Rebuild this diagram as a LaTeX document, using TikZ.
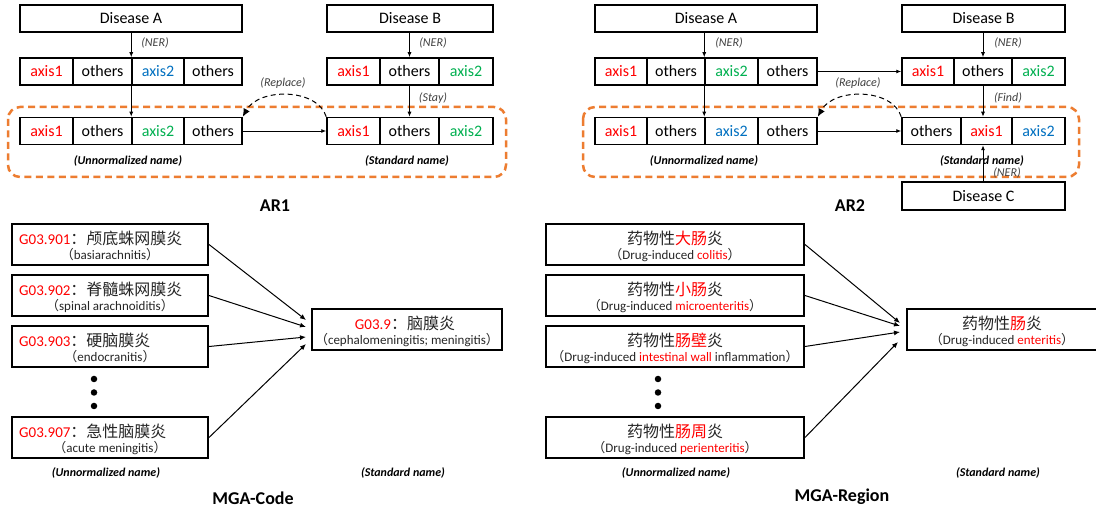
\documentclass[tikz,border=0pt]{standalone}
\usepackage{fontspec}
\setmainfont{Carlito}
\newfontfamily\cjk{Noto Sans CJK SC}
\usetikzlibrary{arrows.meta,calc}
\definecolor{cred}{RGB}{255,0,0}
\definecolor{cgreen}{RGB}{0,176,80}
\definecolor{cblue}{RGB}{0,112,192}
\definecolor{corange}{RGB}{237,125,49}
\definecolor{cgray}{RGB}{64,64,64}
\newcommand\fsz[1]{\fontsize{#1}{#1}\selectfont}
\newcommand\lp{{\cjk （}}
\newcommand\rp{{\cjk ）}}
\begin{document}
\begin{tikzpicture}[x=1pt,y=-1pt,
 xcell/.style={draw, line width=1.5pt, minimum height=27pt, inner sep=0pt, font=\fsz{16}},
 xarr/.style={-{Latex[length=5pt,width=4pt]}, line width=0.9pt},
 xlab/.style={font=\fsz{12}\itshape, text=cgray, inner sep=0pt},
 xnm/.style={font=\fsz{12}\bfseries\itshape, inner sep=0pt},
 xttl/.style={font=\fsz{18}\bfseries, inner sep=0pt},
 xgrp/.style={draw=corange, line width=2.5pt, dash pattern=on 7pt off 4.5pt, rounded corners=12pt},
 xrepl/.style={line width=1pt, dash pattern=on 5pt off 3.5pt, -{Latex[length=8pt,width=7pt]}},
 xmbox/.style={draw, line width=2pt, minimum height=41pt, inner sep=0pt},
 xcn/.style={inner sep=0pt, font=\fsz{16}\cjk, text=black!85},
 xen/.style={inner sep=0pt, font=\fsz{13}, text=black!85},
 xdot/.style={fill, circle, inner sep=0pt, minimum size=6.5pt},
 xmarr/.style={-{Latex[length=6pt,width=5pt]}, line width=1pt}
]
\useasboundingbox (0,0) rectangle (1096,510);
\clip (0,0) rectangle (1096,510);
\fill[white] (0,0) rectangle (1096,510);

% ---------------- AR1 ----------------
\draw[xgrp] (8,107) rectangle (506,177);
\node[xcell, minimum width=222pt] (a1A) at (131,18.5) {Disease A};
\node[xcell, minimum width=53pt, text=cred] (a1r1c1) at (46.5,71.5) {axis1};
\node[xcell, minimum width=59pt] (a1r1c2) at (102.5,71.5) {others};
\node[xcell, minimum width=52pt, text=cblue] (a1r1c3) at (158,71.5) {axis2};
\node[xcell, minimum width=58pt] (a1r1c4) at (213,71.5) {others};
\node[xcell, minimum width=53pt, text=cred] (a1r2c1) at (46.5,131) {axis1};
\node[xcell, minimum width=59pt] (a1r2c2) at (102.5,131) {others};
\node[xcell, minimum width=52pt, text=cgreen] (a1r2c3) at (158,131) {axis2};
\node[xcell, minimum width=58pt] (a1r2c4) at (213,131) {others};
\node[xcell, minimum width=166pt] (a1B) at (410,18.5) {Disease B};
\node[xcell, minimum width=53pt, text=cred] (a1s1c1) at (353.5,71.5) {axis1};
\node[xcell, minimum width=59pt] (a1s1c2) at (409.5,71.5) {others};
\node[xcell, minimum width=54pt, text=cgreen] (a1s1c3) at (466,71.5) {axis2};
\node[xcell, minimum width=53pt, text=cred] (a1s2c1) at (353.5,131) {axis1};
\node[xcell, minimum width=59pt] (a1s2c2) at (409.5,131) {others};
\node[xcell, minimum width=54pt, text=cgreen] (a1s2c3) at (466,131) {axis2};

\draw[xarr] (a1A.south -| a1r1c3.west) -- (a1r1c3.north west);
\draw[xarr] (a1r1c3.south west) -- (a1r2c3.north west);
\draw[xarr] (a1B.south -| a1s1c2) -- (a1s1c2.north);
\draw[xarr] (a1s1c2.south) -- (a1s2c2.north);
\draw[xarr] (a1r2c4.east) -- (a1s2c1.west);
\draw[xrepl] (a1s2c1.north west) .. controls ($(a1s2c1.north west)+(-9,-29)$) and ($(a1r2c4.north east)+(16,-29)$) .. (a1r2c4.north east);

\node[xlab] (l1a) at (155,43) {(NER)};
\node[xlab] (l1b) at (433,43) {(NER)};
\node[xlab] (l1c) at (433,98) {(Stay)};
\node[xlab] (l1d) at (283,83) {(Replace)};
\node[xnm] (n1a) at (128,161) {(Unnormalized name)};
\node[xnm] (n1b) at (407,161) {(Standard name)};
\node[xttl] (t1) at (275,206) {AR1};

% ---------------- AR2 ----------------
\draw[xgrp] (583,107) rectangle (1079,177);
\node[xcell, minimum width=222pt] (a2A) at (706,18.5) {Disease A};
\node[xcell, minimum width=52pt, text=cred] (a2r1c1) at (621,71.5) {axis1};
\node[xcell, minimum width=58pt] (a2r1c2) at (676,71.5) {others};
\node[xcell, minimum width=53pt, text=cgreen] (a2r1c3) at (731.5,71.5) {axis2};
\node[xcell, minimum width=59pt] (a2r1c4) at (787.5,71.5) {others};
\node[xcell, minimum width=52pt, text=cred] (a2r2c1) at (621,131) {axis1};
\node[xcell, minimum width=58pt] (a2r2c2) at (676,131) {others};
\node[xcell, minimum width=53pt, text=cblue] (a2r2c3) at (731.5,131) {axis2};
\node[xcell, minimum width=59pt] (a2r2c4) at (787.5,131) {others};
\node[xcell, minimum width=163pt] (a2B) at (983.5,18.5) {Disease B};
\node[xcell, minimum width=52pt, text=cred] (a2s1c1) at (928,71.5) {axis1};
\node[xcell, minimum width=58pt] (a2s1c2) at (983,71.5) {others};
\node[xcell, minimum width=53pt, text=cgreen] (a2s1c3) at (1038.5,71.5) {axis2};
\node[xcell, minimum width=59pt] (a2s2c1) at (931.5,131) {others};
\node[xcell, minimum width=51pt, text=cred] (a2s2c2) at (986.5,131) {axis1};
\node[xcell, minimum width=53pt, text=cblue] (a2s2c3) at (1038.5,131) {axis2};
\node[xcell, minimum width=163pt, minimum height=28pt] (a2C) at (983.5,196) {Disease C};

\draw[xarr] (a2A.south -| a2r1c3.west) -- (a2r1c3.north west);
\draw[xarr] (a2r1c3.south west) -- (a2r2c3.north west);
\draw[xarr] (a2r1c4.east) -- (a2s1c1.west);
\draw[xarr] (a2B.south -| a2s1c2) -- (a2s1c2.north);
\draw[xarr] (a2s1c2.south) -- (a2s2c2.north -| a2s1c2);
\draw[xarr] (a2C.north -| a2s1c2) -- (a2s2c2.south -| a2s1c2);
\draw[xarr] (a2r2c4.east) -- (a2s2c1.west);
\draw[xrepl] (a2s2c1.north west) .. controls ($(a2s2c1.north west)+(-9,-29)$) and ($(a2r2c4.north east)+(16,-29)$) .. (a2r2c4.north east);

\node[xlab] (l2a) at (729,43) {(NER)};
\node[xlab] (l2b) at (1008,43) {(NER)};
\node[xlab] (l2c) at (1008,98) {(Find)};
\node[xlab] (l2d) at (858,83) {(Replace)};
\node[xlab] (l2e) at (1007,173) {(NER)};
\node[xnm] (n2a) at (704,161) {(Unnormalized name)};
\node[xnm] (n2b) at (982,161) {(Standard name)};
\node[xttl] (t2) at (850,206) {AR2};

% ---------------- MGA-Code ----------------
\node[xmbox, minimum width=196pt] (c1) at (110,244.5) {};
\node[xmbox, minimum width=196pt] (c2) at (110,295.5) {};
\node[xmbox, minimum width=196pt] (c3) at (110,346.5) {};
\node[xmbox, minimum width=196pt] (c4) at (110,437.5) {};
\node[xmbox, minimum width=190pt] (ct) at (407,329.5) {};
\node[xcn, anchor=west] (c1t) at (19,238) {\textcolor{cred}{\fsz{15}\rmfamily G03.901}：颅底蛛网膜炎};
\node[xen] (c1e) at (110,255) {\lp basiarachnitis\rp};
\node[xcn, anchor=west] (c2t) at (19,289) {\textcolor{cred}{\fsz{15}\rmfamily G03.902}：脊髓蛛网膜炎};
\node[xen] (c2e) at (110,306) {\lp spinal arachnoiditis\rp};
\node[xcn, anchor=west] (c3t) at (19,340) {\textcolor{cred}{\fsz{15}\rmfamily G03.903}：硬脑膜炎};
\node[xen] (c3e) at (110,357) {\lp endocranitis\rp};
\node[xcn, anchor=west] (c4t) at (19,431) {\textcolor{cred}{\fsz{15}\rmfamily G03.907}：急性脑膜炎};
\node[xen] (c4e) at (110,448) {\lp acute meningitis\rp};
\node[xcn] (ctt) at (405,323) {\textcolor{cred}{\fsz{15}\rmfamily G03.9}：脑膜炎};
\node[xen] (cte) at (407,340) {\lp cephalomeningitis; meningitis\rp};
\node[xdot] (cd1) at (94,379) {};
\node[xdot] (cd2) at (94,392.5) {};
\node[xdot] (cd3) at (94,406) {};
\draw[xmarr] (c1.east) -- ($(ct.west)+(-5,-9.5)$);
\draw[xmarr] (c2.east) -- ($(ct.west)+(-5,-2.5)$);
\draw[xmarr] (c3.east) -- ($(ct.west)+(-5,7.5)$);
\draw[xmarr] (c4.east) -- ($(ct.west)+(-5,14.5)$);
\node[xnm] (n3a) at (106,473) {(Unnormalized name)};
\node[xnm] (n3b) at (403,473) {(Standard name)};
\node[xttl] (t3) at (253,498) {MGA-Code};

% ---------------- MGA-Region ----------------
\node[xmbox, minimum width=258pt] (r1) at (675,244.5) {};
\node[xmbox, minimum width=258pt] (r2) at (675,295.5) {};
\node[xmbox, minimum width=258pt] (r3) at (675,346.5) {};
\node[xmbox, minimum width=258pt] (r4) at (675,437.5) {};
\node[xmbox, minimum width=190pt] (rt) at (1002,329.5) {};
\node[xcn] (r1t) at (675,238) {药物性\textcolor{cred}{大肠}炎};
\node[xen] (r1e) at (675,255) {\lp Drug-induced \textcolor{cred}{colitis}\rp};
\node[xcn] (r2t) at (675,289) {药物性\textcolor{cred}{小肠}炎};
\node[xen] (r2e) at (675,306) {\lp Drug-induced \textcolor{cred}{microenteritis}\rp};
\node[xcn] (r3t) at (675,340) {药物性\textcolor{cred}{肠壁}炎};
\node[xen] (r3e) at (675,357) {\lp Drug-induced \textcolor{cred}{intestinal wall} inflammation\rp};
\node[xcn] (r4t) at (675,431) {药物性\textcolor{cred}{肠周}炎};
\node[xen] (r4e) at (675,448) {\lp Drug-induced \textcolor{cred}{perienteritis}\rp};
\node[xcn] (rtt) at (1002,323) {药物性\textcolor{cred}{肠}炎};
\node[xen] (rte) at (1002,340) {\lp Drug-induced \textcolor{cred}{enteritis}\rp};
\node[xdot] (rd1) at (658,379) {};
\node[xdot] (rd2) at (658,392.5) {};
\node[xdot] (rd3) at (658,406) {};
\draw[xmarr] (r1.east) -- ($(rt.west)+(-6,-6.5)$);
\draw[xmarr] (r2.east) -- ($(rt.west)+(-6,-3.5)$);
\draw[xmarr] (r3.east) -- ($(rt.west)+(-6,2.5)$);
\draw[xmarr] (r4.east) -- ($(rt.west)+(-8,12.5)$);
\node[xnm] (n4a) at (676,473) {(Unnormalized name)};
\node[xnm] (n4b) at (998,473) {(Standard name)};
\node[xttl] (t4) at (842,497) {MGA-Region};
\end{tikzpicture}
\end{document}
